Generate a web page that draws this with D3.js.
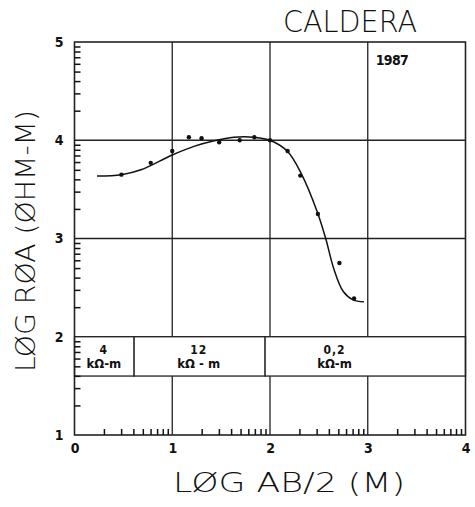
<!DOCTYPE html>
<html>
<head>
<meta charset="utf-8">
<script src="https://cdn.jsdelivr.net/npm/d3@7"></script>
<style>
  body { margin: 0; background: #fff; }
  svg { display: block; }
  .plotter { font-family: "DejaVu Sans", sans-serif; font-weight: 200; fill: #111; }
  .num { font-family: "Liberation Sans Narrow", "DejaVu Sans Condensed", sans-serif; font-weight: bold; fill: #111; }
</style>
</head>
<body>
<div id="chart"></div>
<script>
(function() {
  // sounding data (log AB/2, log rho_a)
  var obsX = [0.48, 0.78, 1.00, 1.17, 1.30, 1.48, 1.69, 1.84, 2.00, 2.18, 2.31, 2.49, 2.71, 2.86];
  var obsY = [3.65, 3.77, 3.89, 4.03, 4.02, 3.98, 4.00, 4.03, 4.00, 3.89, 3.64, 3.25, 2.75, 2.39];

  // fitted model curve
  var fitX = [0.23, 0.48, 0.68, 1.00, 1.23, 1.43, 1.63, 1.84, 2.00, 2.18, 2.32, 2.48, 2.57, 2.65, 2.75, 2.85, 2.96];
  var fitY = [3.635, 3.65, 3.70, 3.85, 3.94, 3.995, 4.03, 4.03, 4.00, 3.885, 3.66, 3.28, 3.00, 2.70, 2.46, 2.375, 2.355];

  // layered model
  var layerStart = [0, 0.61, 1.95];
  var layerEnd = [0.61, 1.95, 4];
  var layerRho = ['4', '12', '0,2'];
  var layerLabelX = [0.30, 1.27, 2.66];

  var xTicks = [0, 1, 2, 3, 4];
  var yTicks = [1, 2, 3, 4, 5];

  var W = 475, H = 507;
  var margin = { left: 74.5, right: 9.5, top: 42, bottom: 72 };

  var svg = d3.select('#chart').append('svg')
    .attr('width', W)
    .attr('height', H);

  var x = d3.scaleLinear().domain([0, 4]).range([margin.left, W - margin.right]);
  var y = d3.scaleLinear().domain([1, 5]).range([H - margin.bottom, margin.top]);

  // log minor ticks within each decade
  var minor = [];
  for (var dec = 0; dec < 4; dec++) {
    for (var k = 2; k <= 9; k++) minor.push(dec + Math.log(k) / Math.LN10);
  }
  var minorY = minor.map(function(v) { return v + 1; });

  var g = svg.append('g');

  // grid
  g.selectAll('.vgrid').data([1, 2, 3]).enter().append('line')
    .attr('x1', function(d) { return x(d); })
    .attr('x2', function(d) { return x(d); })
    .attr('y1', y(1)).attr('y2', y(5))
    .attr('stroke', '#222').attr('stroke-width', 1.3);

  g.selectAll('.hgrid').data([2, 3, 4]).enter().append('line')
    .attr('x1', x(0)).attr('x2', x(4))
    .attr('y1', function(d) { return y(d); })
    .attr('y2', function(d) { return y(d); })
    .attr('stroke', '#222').attr('stroke-width', 1.3);

  // layer boxes
  var layers = d3.range(layerStart.length);
  g.selectAll('.layer').data(layers).enter().append('rect')
    .attr('x', function(i) { return x(layerStart[i]); })
    .attr('width', function(i) { return x(layerEnd[i]) - x(layerStart[i]); })
    .attr('y', y(2))
    .attr('height', y(1.6) - y(2))
    .attr('fill', '#fff')
    .attr('stroke', '#222').attr('stroke-width', 1.3);

  g.selectAll('.rho').data(layers).enter().append('text')
    .attr('class', 'num')
    .attr('x', function(i) { return x(layerLabelX[i]); })
    .attr('y', y(1.6) - 22)
    .attr('text-anchor', 'middle')
    .attr('font-size', 12)
    .attr('letter-spacing', 1)
    .text(function(i) { return layerRho[i]; });

  g.selectAll('.unit').data(layers).enter().append('text')
    .attr('class', 'num')
    .attr('x', function(i) { return x(layerLabelX[i]); })
    .attr('y', y(1.6) - 8)
    .attr('text-anchor', 'middle')
    .attr('font-size', 13)
    .attr('font-weight', 'normal')
    .text(function(i) { return i == 1 ? 'k\u03A9 - m' : 'k\u03A9-m'; });

  // frame
  g.append('rect')
    .attr('x', x(0)).attr('y', y(5))
    .attr('width', x(4) - x(0)).attr('height', y(1) - y(5))
    .attr('fill', 'none')
    .attr('stroke', '#222').attr('stroke-width', 1.6);

  // minor log ticks, pointing into the frame
  svg.append('g')
    .attr('transform', 'translate(' + x(0) + ',0)')
    .call(d3.axisRight(y).tickValues(minorY).tickSize(6).tickFormat(''))
    .call(function(s) {
      s.select('.domain').remove();
      s.selectAll('.tick line').attr('stroke', '#111').attr('stroke-width', 1.5);
    });

  svg.append('g')
    .attr('transform', 'translate(0,' + y(1) + ')')
    .call(d3.axisTop(x).tickValues(minor).tickSize(6).tickFormat(''))
    .call(function(s) {
      s.select('.domain').remove();
      s.selectAll('.tick line').attr('stroke', '#111').attr('stroke-width', 1.5);
    });

  // major tick labels
  g.append('g')
    .attr('transform', 'translate(' + x(0) + ',0)')
    .call(d3.axisLeft(y).tickValues(yTicks).tickSize(0).tickPadding(11).tickFormat(d3.format('d')))
    .call(function(s) {
      s.select('.domain').remove();
      s.selectAll('text').attr('class', 'num').attr('font-size', 14);
    });

  g.append('g')
    .attr('transform', 'translate(0,' + y(1) + ')')
    .call(d3.axisBottom(x).tickValues(xTicks).tickSize(0).tickPadding(8).tickFormat(d3.format('d')))
    .call(function(s) {
      s.select('.domain').remove();
      s.selectAll('text').attr('class', 'num').attr('font-size', 14);
    });

  // model curve
  var line = d3.line()
    .x(function(d) { return x(d[0]); })
    .y(function(d) { return y(d[1]); })
    .curve(d3.curveCatmullRom.alpha(0.5));

  g.append('path')
    .datum(d3.zip(fitX, fitY))
    .attr('d', line)
    .attr('fill', 'none')
    .attr('stroke', '#111').attr('stroke-width', 1.5);

  // observations
  g.selectAll('.obs').data(d3.zip(obsX, obsY)).enter().append('circle')
    .attr('cx', function(d) { return x(d[0]); })
    .attr('cy', function(d) { return y(d[1]); })
    .attr('r', 2.2)
    .attr('fill', '#111');

  // texts
  svg.append('text')
    .attr('class', 'plotter')
    .attr('x', 283).attr('y', 32)
    .attr('font-size', 30)
    .attr('textLength', 134)
    .attr('lengthAdjust', 'spacingAndGlyphs')
    .text('CALDERA');

  svg.append('text')
    .attr('class', 'num')
    .attr('x', x(3) + 8).attr('y', 65)
    .attr('font-size', 14)
    .attr('textLength', 33)
    .text('1987');

  svg.append('text')
    .attr('class', 'plotter')
    .attr('x', 173).attr('y', 492)
    .attr('font-size', 26)
    .attr('textLength', 232)
    .attr('lengthAdjust', 'spacingAndGlyphs')
    .text('L\u00D8G AB/2  (M)');

  svg.append('text')
    .attr('class', 'plotter')
    .attr('transform', 'translate(35,372) rotate(-90)')
    .attr('font-size', 27)
    .attr('textLength', 262)
    .attr('lengthAdjust', 'spacingAndGlyphs')
    .text('L\u00D8G R\u00D8A  (\u00D8HM-M)');
})();
</script>
</body>
</html>
